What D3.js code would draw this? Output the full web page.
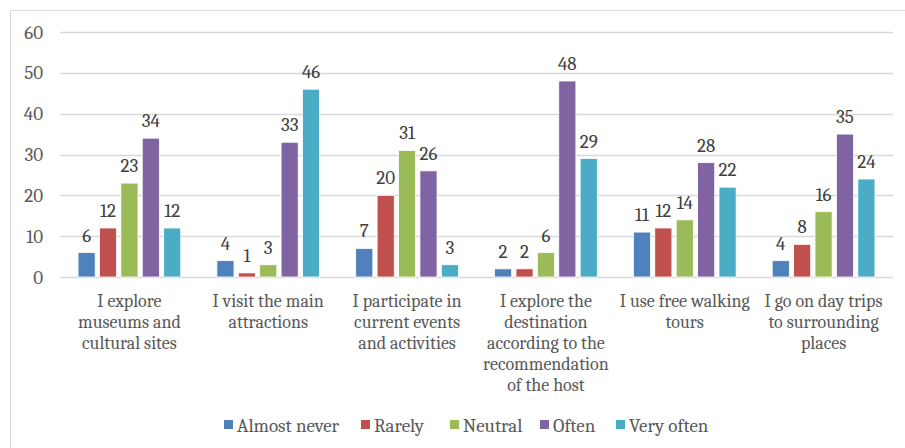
<!DOCTYPE html>
<html>
<head>
<meta charset="utf-8">
<script src="https://cdn.jsdelivr.net/npm/d3@7"></script>
<style>
  body { margin: 0; background: #fff; }
  svg { display: block; }
</style>
</head>
<body>
<svg id="chart" width="905" height="448"></svg>
<script>
const categories = [
  ['I explore', 'museums and', 'cultural sites'],
  ['I visit the main', 'attractions'],
  ['I participate in', 'current events', 'and activities'],
  ['I explore the', 'destination', 'according to the', 'recommendation', 'of the host'],
  ['I use free walking', 'tours'],
  ['I go on day trips', 'to surrounding', 'places']
]
const seriesNames = ['Almost never', 'Rarely', 'Neutral', 'Often', 'Very often']
const seriesColors = ['#4F81BD', '#C0504D', '#9BBB59', '#8064A2', '#4BACC6']
const almostNever = [6, 4, 7, 2, 11, 4]
const rarely = [12, 1, 20, 2, 12, 8]
const neutral = [23, 3, 31, 6, 14, 16]
const often = [34, 33, 26, 48, 28, 35]
const veryOften = [12, 46, 3, 29, 22, 24]
const yTicks = [0, 10, 20, 30, 40, 50, 60]

const series = [almostNever, rarely, neutral, often, veryOften]
const font = "Cambria, 'DejaVu Serif', serif"
const textColor = '#595959'

const svg = d3.select('#chart')
svg.append('rect')
  .attr('x', 10.5).attr('y', 10.5)
  .attr('width', 910).attr('height', 460)
  .style('fill', 'none').style('stroke', '#d9d9d9').style('stroke-width', 1)

const margin = { left: 60, right: 893, top: 32, bottom: 277 }

const x0 = d3.scaleBand()
  .domain(d3.range(categories.length))
  .range([margin.left, margin.right])
  .paddingInner(0.26).paddingOuter(0.13)

const x1 = d3.scaleBand()
  .domain(d3.range(seriesNames.length))
  .range([0, x0.bandwidth()])
  .paddingInner(0.2)

const y = d3.scaleLinear().domain([0, 60]).range([margin.bottom, margin.top])

// Gridlines
svg.append('g')
  .selectAll('line')
  .data(yTicks)
  .join('line')
  .attr('x1', margin.left).attr('x2', margin.right)
  .attr('y1', d => Math.round(y(d)) + 0.5).attr('y2', d => Math.round(y(d)) + 0.5)
  .style('stroke', '#d9d9d9').style('stroke-width', 1.3)

// Y axis labels
svg.append('g')
  .selectAll('text')
  .data(yTicks)
  .join('text')
  .attr('x', 43).attr('y', d => y(d))
  .attr('dy', '0.35em')
  .attr('text-anchor', 'end')
  .style('font-family', font).style('font-size', '19px').style('fill', textColor)
  .text(d => d)

// Bars
const groups = svg.append('g')
  .selectAll('g')
  .data(categories.map((c, i) => i))
  .join('g')
  .attr('transform', i => `translate(${x0(i)},0)`)

groups.selectAll('rect')
  .data(i => series.map((s, k) => ({ k, v: s[i] })))
  .join('rect')
  .attr('x', d => x1(d.k))
  .attr('y', d => y(d.v))
  .attr('width', x1.bandwidth())
  .attr('height', d => y(0) - y(d.v))
  .style('fill', d => seriesColors[d.k])
  .style('stroke', '#fff').style('stroke-width', 0.8)

groups.selectAll('text')
  .data(i => series.map((s, k) => ({ k, v: s[i] })))
  .join('text')
  .attr('x', d => x1(d.k) + x1.bandwidth() / 2)
  .attr('y', d => y(d.v) - 11)
  .attr('text-anchor', 'middle')
  .style('font-family', font).style('font-size', '19px').style('fill', '#404040')
  .text(d => d.v)

// Category labels
const catLabels = svg.append('g')
  .selectAll('text')
  .data(categories)
  .join('text')
  .attr('x', (d, i) => x0(i) + x0.bandwidth() / 2)
  .attr('y', 307)
  .attr('text-anchor', 'middle')
  .style('font-family', font).style('font-size', '18px').style('fill', textColor)

catLabels.selectAll('tspan')
  .data(d => d)
  .join('tspan')
  .attr('x', function () { return this.parentNode.getAttribute('x') })
  .attr('dy', (d, i) => i === 0 ? 0 : 21)
  .text(d => d)

// Legend
const legendX = [224, 361, 450, 540, 616]
const legend = svg.append('g')
  .selectAll('g')
  .data(seriesNames)
  .join('g')
  .attr('transform', (d, i) => `translate(${legendX[i]}, 425)`)

legend.append('rect')
  .attr('x', 0).attr('y', -5)
  .attr('width', 9).attr('height', 9)
  .style('fill', (d, i) => seriesColors[i])

legend.append('text')
  .attr('x', 13).attr('dy', '0.35em')
  .style('font-family', font).style('font-size', '19px').style('fill', textColor)
  .text(d => d)
</script>
</body>
</html>
